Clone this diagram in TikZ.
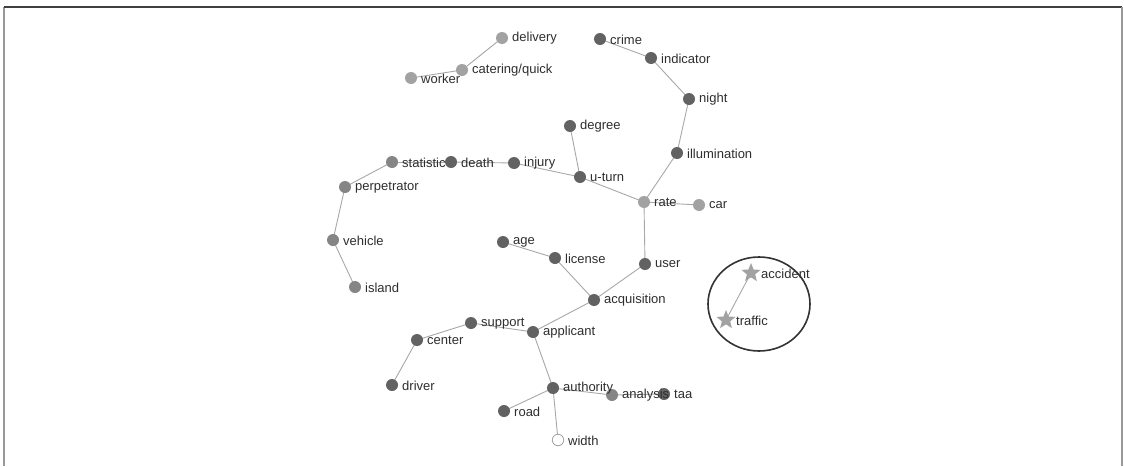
\documentclass[tikz,border=0pt]{standalone}
\usepackage{fontspec}
\setmainfont{Liberation Sans}
\usetikzlibrary{shapes.geometric}
\definecolor{cL}{HTML}{A2A2A2}
\definecolor{cM}{HTML}{858585}
\definecolor{cD}{HTML}{626262}
\definecolor{cE}{HTML}{A8A8A8}
\definecolor{cT}{HTML}{2E2E2E}
\tikzset{
  dot/.style={circle,inner sep=0pt,minimum size=12pt,fill=#1,draw=none},
  hollow/.style={circle,inner sep=0pt,minimum size=11.5pt,fill=white,draw=cL,line width=0.8pt},
  starn/.style={star,star points=5,star point ratio=2.3,inner sep=0pt,minimum size=20pt,fill=#1,draw=none},
  lab/.style={anchor=west,text=cT,font=\fontsize{13}{15}\selectfont,inner sep=0pt},
  edge/.style={draw=cE,line width=0.9pt},
}
\begin{document}
\begin{tikzpicture}[x=1pt,y=-1pt]
\useasboundingbox (0,0) rectangle (1124,466);
\fill[white] (0,0) rectangle (1124,466);
\draw[gray!80,line width=1.2pt] (4,466) -- (4,7);
\draw[black!75,line width=1.2pt] (4,7) -- (1122,7);
\draw[gray!80,line width=1.2pt] (1122,7) -- (1122,466);
% nodes
\foreach \n/\x/\y in {
 delivery/502/38, catering/462/70, worker/411/78,
 crime/600/39, indicator/651/58, night/689/99, degree/570/126,
 illumination/677/153, statistic/392/162, death/451/162,
 injury/514/163, uturn/580/177, perpetrator/345/187,
 rate/644/202, car/699/205, vehicle/333/240, age/503/242,
 license/555/258, user/645/264, island/355/287,
 acquisition/594/300, support/471/323, applicant/533/332,
 center/417/340, driver/392/385, authority/553/388,
 analysis/612/395, taa/664/394, road/504/411,
 width/558/440, accident/751/273, traffic/726/320}
 {\coordinate (\n) at (\x,\y);}
% edges
\foreach \a/\b in {delivery/catering, catering/worker, crime/indicator,
 indicator/night, night/illumination, illumination/rate, rate/car,
 rate/uturn, rate/user, degree/uturn, uturn/injury, injury/death,
 death/statistic, statistic/perpetrator, perpetrator/vehicle,
 vehicle/island, user/acquisition, acquisition/license, license/age,
 acquisition/applicant, applicant/support, support/center, center/driver,
 applicant/authority, authority/road, authority/width,
 authority/analysis, analysis/taa, accident/traffic}
 {\path[edge] (\a) -- (\b);}
% dots
\foreach \n/\c in {delivery/cL, catering/cL, worker/cL, crime/cD,
 indicator/cD, night/cD, degree/cD, illumination/cD, statistic/cM,
 death/cD, injury/cD, uturn/cD, perpetrator/cM, rate/cL, car/cL,
 vehicle/cM, age/cD, license/cD, user/cD, island/cM, acquisition/cD,
 support/cD, applicant/cD, center/cD, driver/cD, authority/cD,
 analysis/cM, taa/cD, road/cD}
 {\node[dot=\c] (d\n) at (\n) {};}
\node[hollow] (dwidth) at (width) {};
\node[starn=cL] (daccident) at (accident) {};
\node[starn=cL] (dtraffic) at (traffic) {};
% labels
\foreach \n/\t in {delivery/delivery, catering/catering\slash quick,
 worker/worker, crime/crime, indicator/indicator, night/night,
 degree/degree, illumination/illumination, statistic/statistic,
 death/death, injury/injury, uturn/u-turn, perpetrator/perpetrator,
 rate/rate, car/car, vehicle/vehicle, age/age, license/license,
 user/user, island/island, acquisition/acquisition, support/support,
 applicant/applicant, center/center, driver/driver,
 authority/authority, analysis/analysis, taa/taa, road/road,
 width/width, accident/accident, traffic/traffic}
 {\node[lab] (l\n) at ([xshift=10pt,yshift=-0.5pt]\n) {\t};}
\draw[black!80,line width=1.6pt] (759,304) ellipse [x radius=51, y radius=47];
\end{tikzpicture}
\end{document}
